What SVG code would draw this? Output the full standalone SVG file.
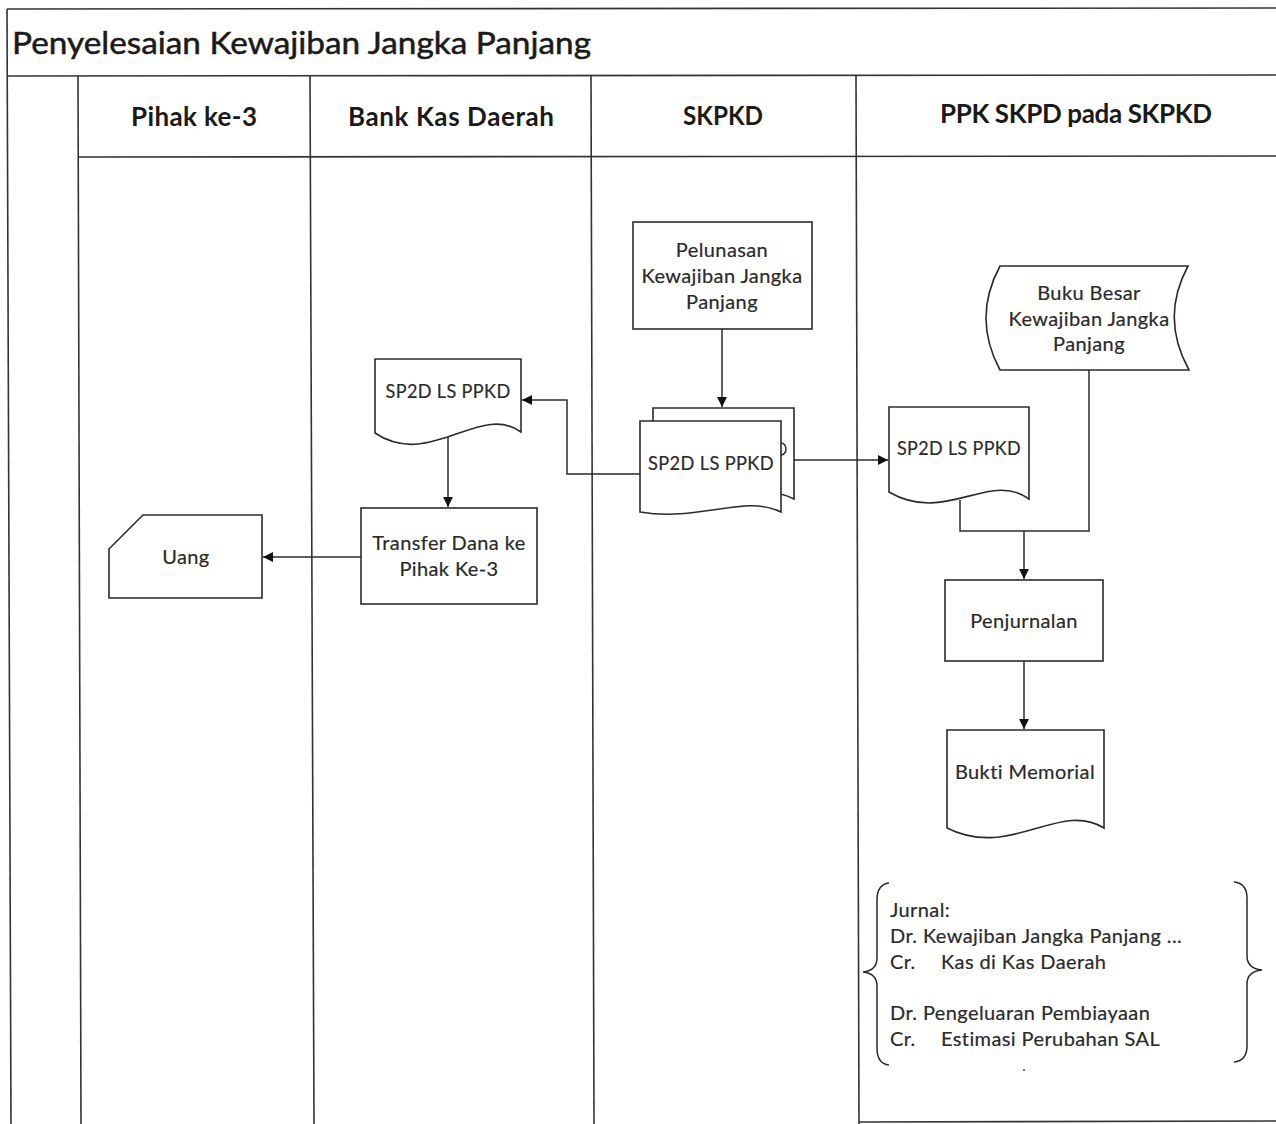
<svg xmlns="http://www.w3.org/2000/svg" width="1276" height="1124" viewBox="0 0 1276 1124">
  <defs>
    <style>
      .frame { fill: none; stroke: #333; stroke-width: 1.6; }
      .shape { fill: #fff; stroke: #2b2b2b; stroke-width: 1.6; }
      .wire { fill: none; stroke: #2b2b2b; stroke-width: 1.5; }
      .title { font-family: Lato, "Open Sans", "Liberation Sans", sans-serif; font-size: 30px; fill: #1a1a1a; stroke: #1a1a1a; stroke-width: 0.5; }
      .lane { font-family: Lato, "Open Sans", "Liberation Sans", sans-serif; font-size: 26px; font-weight: bold; fill: #1a1a1a; text-anchor: middle; }
      .lbl { font-family: Lato, "Open Sans", "Liberation Sans", sans-serif; font-size: 20px; letter-spacing: 0.4px; fill: #2a2a2a; text-anchor: middle; stroke: #2a2a2a; stroke-width: 0.2; }
      .jr { font-family: Lato, "Open Sans", "Liberation Sans", sans-serif; font-size: 20px; letter-spacing: 0.4px; fill: #2a2a2a; stroke: #2a2a2a; stroke-width: 0.2; }
    </style>
    <marker id="arrow" viewBox="0 0 10 10" refX="10" refY="5" markerWidth="10" markerHeight="10" markerUnits="userSpaceOnUse" orient="auto">
      <path d="M0 0 L10 5 L0 10 Z" fill="#111"/>
    </marker>
  </defs>
  <rect width="1276" height="1124" fill="#fff"/>

  <!-- swimlane frame -->
  <g id="pool">
    <line class="frame" x1="7" y1="9" x2="1276" y2="8"/>
    <line class="frame" x1="7" y1="9" x2="11" y2="1124"/>
    <line class="frame" x1="7" y1="76" x2="1276" y2="75"/>
    <line class="frame" x1="78" y1="157" x2="1276" y2="156"/>
    <line class="frame" x1="78" y1="76" x2="81" y2="1124"/>
    <line class="frame" x1="310" y1="76" x2="314" y2="1124"/>
    <line class="frame" x1="591" y1="76" x2="594" y2="1124"/>
    <line class="frame" x1="856" y1="76" x2="859" y2="1124"/>
    <line class="frame" x1="859" y1="1122" x2="1276" y2="1121"/>
    <text class="title" x="12" y="54" textLength="579" lengthAdjust="spacingAndGlyphs">Penyelesaian Kewajiban Jangka Panjang</text>
    <text class="lane" x="194" y="126" textLength="126">Pihak ke-3</text>
    <text class="lane" x="451" y="126" textLength="206">Bank Kas Daerah</text>
    <text class="lane" x="723" y="125" textLength="80" lengthAdjust="spacingAndGlyphs">SKPKD</text>
    <text class="lane" x="1076" y="123" textLength="272">PPK SKPD pada SKPKD</text>
  </g>

  <!-- connectors -->
  <g id="connectors">
    <path class="wire" d="M722 329 V407" marker-end="url(#arrow)"/>
    <path class="wire" d="M640 474 H567 V400 H522" marker-end="url(#arrow)"/>
    <path class="wire" d="M448 432 V507" marker-end="url(#arrow)"/>
    <path class="wire" d="M361 557 H263" marker-end="url(#arrow)"/>
    <path class="wire" d="M794 460 H888" marker-end="url(#arrow)"/>
    <path class="wire" d="M960 500 V531 H1089 V370"/>
    <path class="wire" d="M1024 531 V579" marker-end="url(#arrow)"/>
    <path class="wire" d="M1024 661 V729" marker-end="url(#arrow)"/>
  </g>

  <g id="pelunasan">
    <rect class="shape" x="633" y="222" width="179" height="107"/>
    <text class="lbl" x="722" y="257">Pelunasan</text>
    <text class="lbl" x="722" y="283">Kewajiban Jangka</text>
    <text class="lbl" x="722" y="309">Panjang</text>
  </g>

  <!-- stacked documents: back sheet, front sheet, then the edge of the back sheet's label -->
  <g id="sp2d-skpkd">
    <path class="shape" d="M653 408 H794 V499 C755 478 720 520 653 500 Z"/>
    <path class="shape" d="M640 421 H781 V512 C745 494 700 522 640 512 Z"/>
    <path class="wire" d="M781 443 a5 6 0 0 1 0 12"/>
    <text class="lbl" x="711" y="470" textLength="126" lengthAdjust="spacingAndGlyphs">SP2D LS PPKD</text>
  </g>

  <g id="sp2d-bank">
    <path class="shape" d="M375 359 H521 V432 C480 402 430 470 375 433 Z"/>
    <text class="lbl" x="448" y="398" textLength="125" lengthAdjust="spacingAndGlyphs">SP2D LS PPKD</text>
  </g>

  <g id="transfer">
    <rect class="shape" x="361" y="508" width="176" height="96"/>
    <text class="lbl" x="449" y="550">Transfer Dana ke</text>
    <text class="lbl" x="449" y="576">Pihak Ke-3</text>
  </g>

  <g id="uang">
    <path class="shape" d="M143 515 H262 V598 H109 V549 Z"/>
    <text class="lbl" x="186" y="564">Uang</text>
  </g>

  <g id="buku-besar">
    <path class="shape" d="M1000 266 H1188 Q1160 318 1189 370 H1000 Q972 318 1000 266 Z"/>
    <text class="lbl" x="1089" y="300">Buku Besar</text>
    <text class="lbl" x="1089" y="326">Kewajiban Jangka</text>
    <text class="lbl" x="1089" y="351">Panjang</text>
  </g>

  <g id="sp2d-ppk">
    <path class="shape" d="M889 407 H1029 V499 C990 470 945 525 889 492 Z"/>
    <text class="lbl" x="959" y="455" textLength="124" lengthAdjust="spacingAndGlyphs">SP2D LS PPKD</text>
    <circle cx="1026" cy="497" r="0.9" fill="#555"/>
  </g>

  <g id="penjurnalan">
    <rect class="shape" x="945" y="580" width="158" height="81"/>
    <text class="lbl" x="1024" y="628">Penjurnalan</text>
  </g>

  <g id="bukti-memorial">
    <path class="shape" d="M947 730 H1104 V828 C1060 800 1010 860 947 828 Z"/>
    <text class="lbl" x="1025" y="779">Bukti Memorial</text>
  </g>

  <g id="jurnal">
    <path class="wire" d="M889 883 C880 884 877 890 877 900 V958 C877 966 872 971 863 972 C872 973 877 978 877 986 V1048 C877 1058 880 1064 889 1065"/>
    <path class="wire" d="M1234 882 C1243 883 1247 889 1247 898 V956 C1247 964 1252 969 1262 970 C1252 971 1247 976 1247 984 V1046 C1247 1055 1243 1061 1234 1062"/>
    <text class="jr" x="890" y="917">Jurnal:</text>
    <text class="jr" x="890" y="943">Dr. Kewajiban Jangka Panjang ...</text>
    <text class="jr" x="890" y="969">Cr.</text>
    <text class="jr" x="941" y="969">Kas di Kas Daerah</text>
    <text class="jr" x="890" y="1020">Dr. Pengeluaran Pembiayaan</text>
    <text class="jr" x="890" y="1046">Cr.</text>
    <text class="jr" x="941" y="1046">Estimasi Perubahan SAL</text>
    <circle cx="1024" cy="1070" r="1" fill="#444"/>
  </g>
</svg>
